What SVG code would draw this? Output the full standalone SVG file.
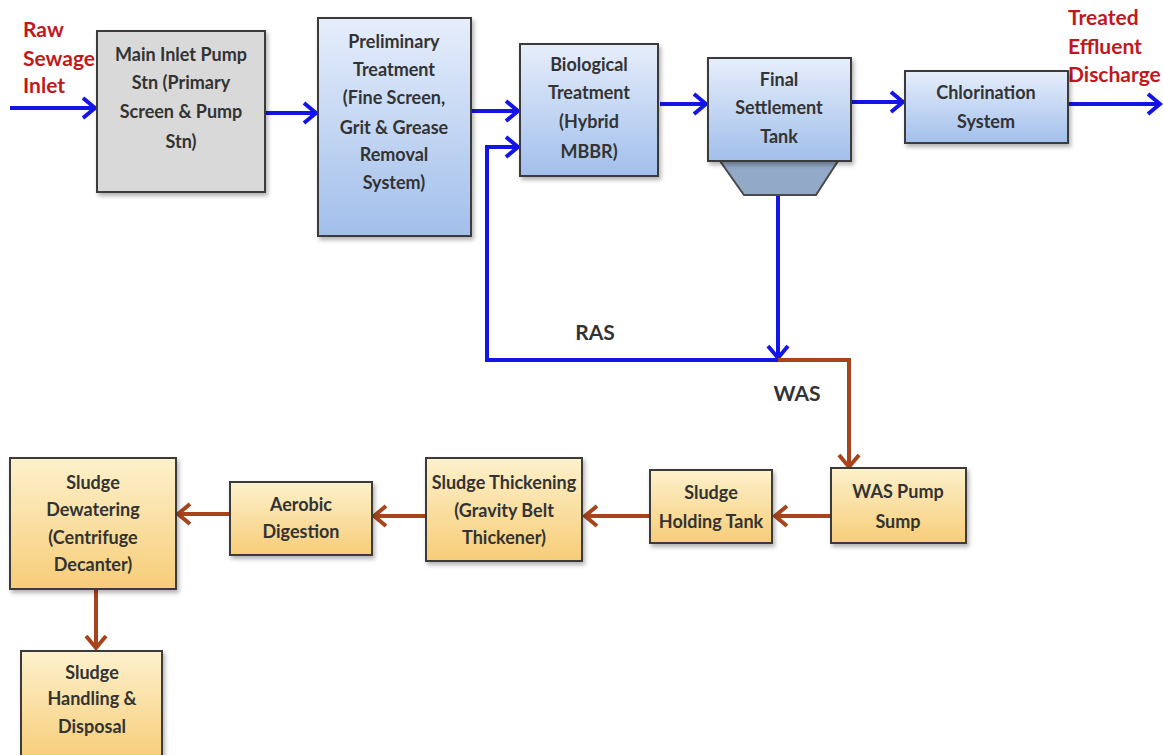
<svg xmlns="http://www.w3.org/2000/svg" width="1163" height="755" viewBox="0 0 1163 755">
<style>
.box{stroke:#3a3a3a;stroke-width:2;filter:url(#sh)}
.gray{fill:#d9d9d9}
.blue{fill:url(#gb)}
.yel{fill:url(#gy)}
.t{font-family:Lato,"Open Sans","Liberation Sans",sans-serif;font-weight:bold;font-size:18px;fill:#333;text-anchor:middle}
.r{font-family:Lato,"Liberation Sans",sans-serif;font-weight:bold;font-size:21px;fill:#c01820}
.lbl{font-family:Lato,"Liberation Sans",sans-serif;font-weight:bold;font-size:21px;fill:#333;text-anchor:middle}
.bl{fill:none;stroke:#1414e6;stroke-width:4;marker-end:url(#ab)}
.bln{fill:none;stroke:#1414e6;stroke-width:4}
.br{fill:none;stroke:#a8441c;stroke-width:4;marker-end:url(#ar)}
</style>
<defs>
<linearGradient id="gb" x1="0" y1="0" x2="0" y2="1"><stop offset="0" stop-color="#e6eefb"/><stop offset="1" stop-color="#a2bfeb"/></linearGradient>
<linearGradient id="gy" x1="0" y1="0" x2="0" y2="1"><stop offset="0" stop-color="#fdf1cc"/><stop offset="1" stop-color="#f7cd78"/></linearGradient>
<filter id="sh" x="-10%" y="-10%" width="130%" height="130%"><feDropShadow dx="2" dy="3" stdDeviation="2" flood-color="#000" flood-opacity="0.3"/></filter>
<marker id="ab" markerUnits="userSpaceOnUse" markerWidth="20" markerHeight="24" refX="16" refY="12" orient="auto"><path d="M4,2 L16,12 L4,22" fill="none" stroke="#1414e6" stroke-width="4"/></marker>
<marker id="ar" markerUnits="userSpaceOnUse" markerWidth="20" markerHeight="24" refX="16" refY="12" orient="auto"><path d="M4,2 L16,12 L4,22" fill="none" stroke="#a8441c" stroke-width="4"/></marker>
</defs>
<rect width="1163" height="755" fill="#fff"/>

<g id="connectors">
<path class="bl" d="M10,108 H95"/>
<path class="bl" d="M266,113 H316"/>
<path class="bl" d="M472,111 H518"/>
<path class="bl" d="M660,104 H706"/>
<path class="bl" d="M852,102 H903"/>
<path class="bl" d="M1069,104 H1160"/>
<path class="bl" d="M778,195 V358"/>
<path class="bl" d="M778,360 H487 V147 H518"/>
<path class="br" d="M778,360 H849 V467"/>
<path class="br" d="M831,516 H775"/>
<path class="br" d="M650,516 H585"/>
<path class="br" d="M426,516 H374"/>
<path class="br" d="M230,514 H178"/>
<path class="br" d="M96,590 V648"/>
</g>

<g id="label-raw"><text class="r" x="23" y="37">Raw</text><text class="r" x="23" y="66">Sewage</text><text class="r" x="23" y="93">Inlet</text></g>
<g id="label-treated"><text class="r" x="1068" y="25">Treated</text><text class="r" x="1068" y="54">Effluent</text><text class="r" x="1068" y="82">Discharge</text></g>
<g id="label-ras"><text class="lbl" x="595" y="340">RAS</text></g>
<g id="label-was"><text class="lbl" x="797" y="401">WAS</text></g>

<g id="main-inlet"><rect class="box gray" x="97" y="31" width="168" height="161"/>
<text class="t" x="181" y="61">Main Inlet Pump</text><text class="t" x="181" y="89">Stn (Primary</text><text class="t" x="181" y="118">Screen &amp; Pump</text><text class="t" x="181" y="148">Stn)</text></g>

<g id="preliminary"><rect class="box blue" x="318" y="18" width="153" height="218"/>
<text class="t" x="394" y="48">Preliminary</text><text class="t" x="394" y="76">Treatment</text><text class="t" x="394" y="104">(Fine Screen,</text><text class="t" x="394" y="134">Grit &amp; Grease</text><text class="t" x="394" y="161">Removal</text><text class="t" x="394" y="189">System)</text></g>

<g id="biological"><rect class="box blue" x="520" y="44" width="138" height="132"/>
<text class="t" x="589" y="71">Biological</text><text class="t" x="589" y="99">Treatment</text><text class="t" x="589" y="128">(Hybrid</text><text class="t" x="589" y="158">MBBR)</text></g>

<g id="final-settlement"><polygon points="720,161 838,161 816,195 744,195" fill="#93a9c8" stroke="#4a4a4a" stroke-width="2"/>
<rect class="box blue" x="708" y="58" width="143" height="103"/>
<text class="t" x="779" y="86">Final</text><text class="t" x="779" y="114">Settlement</text><text class="t" x="779" y="143">Tank</text></g>

<g id="chlorination"><rect class="box blue" x="905" y="71" width="163" height="72"/>
<text class="t" x="986" y="99">Chlorination</text><text class="t" x="986" y="128">System</text></g>

<g id="was-pump"><rect class="box yel" x="831" y="468" width="135" height="75"/>
<text class="t" x="898" y="498">WAS Pump</text><text class="t" x="898" y="528">Sump</text></g>

<g id="holding"><rect class="box yel" x="650" y="470" width="122" height="73"/>
<text class="t" x="711" y="499">Sludge</text><text class="t" x="711" y="528">Holding Tank</text></g>

<g id="thickening"><rect class="box yel" x="426" y="458" width="156" height="103"/>
<text class="t" x="504" y="489">Sludge Thickening</text><text class="t" x="504" y="517">(Gravity Belt</text><text class="t" x="504" y="544">Thickener)</text></g>

<g id="aerobic"><rect class="box yel" x="230" y="482" width="142" height="73"/>
<text class="t" x="301" y="511">Aerobic</text><text class="t" x="301" y="538">Digestion</text></g>

<g id="dewatering"><rect class="box yel" x="10" y="458" width="166" height="131"/>
<text class="t" x="93" y="489">Sludge</text><text class="t" x="93" y="516">Dewatering</text><text class="t" x="93" y="544">(Centrifuge</text><text class="t" x="93" y="571">Decanter)</text></g>

<g id="handling"><rect class="box yel" x="21" y="651" width="141" height="110"/>
<text class="t" x="92" y="679">Sludge</text><text class="t" x="92" y="705">Handling &amp;</text><text class="t" x="92" y="733">Disposal</text></g>
</svg>
